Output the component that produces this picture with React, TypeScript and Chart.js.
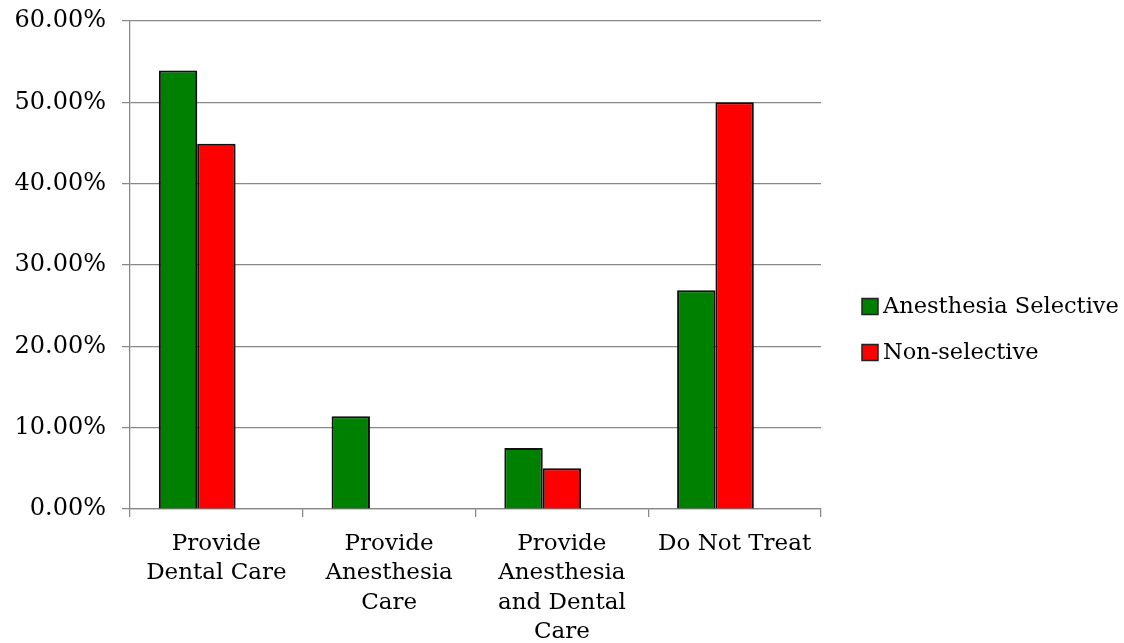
import React, { useEffect, useRef } from 'react';
import { Chart, registerables } from 'chart.js';

Chart.register(...registerables);

const categories: string[][] = [
  ['Provide', 'Dental Care'],
  ['Provide', 'Anesthesia', 'Care'],
  ['Provide', 'Anesthesia', 'and Dental', 'Care'],
  ['Do Not Treat'],
];
const seriesNames = ['Anesthesia Selective', 'Non-selective'];
const anesthesiaSelective = [53.9, 11.4, 7.5, 26.9];
const nonSelective = [44.9, 0, 5.0, 50.0];
const emptyThirdSeries: (number | null)[] = [null, null, null, null];
const seriesColors = ['#008000', '#ff0000'];
const yMin = 0;
const yMax = 60;
const yStep = 10;

const FONT = '"DejaVu Serif", serif';

const shadowPlugin = {
  id: 'barShadow',
  beforeDatasetsDraw(chart: any) {
    const ctx = chart.ctx;
    ctx.save();
    ctx.shadowColor = 'rgba(0,0,0,0.35)';
    ctx.shadowBlur = 4;
    ctx.shadowOffsetX = 1.5;
    ctx.shadowOffsetY = 1.5;
  },
  afterDatasetsDraw(chart: any) {
    chart.ctx.restore();
  },
};

const sideLegendPlugin = {
  id: 'sideLegend',
  afterDraw(chart: any) {
    const ctx = chart.ctx;
    const ca = chart.chartArea;
    const items = chart.data.datasets.filter((d: any) => d.label);
    const x0 = ca.right + 41;
    const cy = chart.height / 2 + 8;
    const rowGap = 46;
    items.forEach((ds: any, i: number) => {
      const yc = cy + (i - (items.length - 1) / 2) * rowGap;
      ctx.save();
      ctx.fillStyle = ds.backgroundColor;
      ctx.fillRect(x0, yc - 8, 16, 16);
      ctx.strokeStyle = '#222';
      ctx.lineWidth = 1.5;
      ctx.strokeRect(x0, yc - 8, 16, 16);
      ctx.fillStyle = '#000';
      ctx.font = `22.5px ${FONT}`;
      ctx.textBaseline = 'alphabetic';
      ctx.textAlign = 'left';
      ctx.fillText(ds.label, x0 + 21, yc + 6.5);
      ctx.restore();
    });
  },
};

export default function App() {
  const canvasRef = useRef<HTMLCanvasElement | null>(null);

  useEffect(() => {
    if (!canvasRef.current) return;
    const chart = new Chart(canvasRef.current, {
      type: 'bar',
      data: {
        labels: categories as any,
        datasets: [
          {
            label: seriesNames[0],
            data: anesthesiaSelective,
            backgroundColor: seriesColors[0],
            borderColor: '#111',
            borderWidth: 2,
          },
          {
            label: seriesNames[1],
            data: nonSelective,
            backgroundColor: seriesColors[1],
            borderColor: '#111',
            borderWidth: 2,
          },
          {
            label: '',
            data: emptyThirdSeries as any,
            backgroundColor: 'transparent',
            borderWidth: 0,
          },
        ],
      },
      options: {
        responsive: false,
        animation: false,
        maintainAspectRatio: false,
        layout: { padding: { top: 21, right: 303, bottom: 0, left: 0 } },
        datasets: {
          bar: { categoryPercentage: 0.666, barPercentage: 1 },
        },
        plugins: {
          legend: { display: false },
          tooltip: { enabled: false },
        },
        scales: {
          x: {
            offset: true,
            grid: {
              display: true,
              drawOnChartArea: false,
              drawTicks: true,
              tickLength: 8,
              color: '#888',
              lineWidth: 1.25,
              offset: true,
            },
            border: { display: true, color: '#888', width: 1.25 },
            ticks: {
              color: '#000',
              padding: 12,
              maxRotation: 0,
              autoSkip: false,
              font: { family: FONT, size: 23, lineHeight: 1.28 },
            },
            afterFit(scale: any) {
              scale.height = 134;
              scale.paddingLeft = 0;
              scale.paddingRight = 0;
            },
          },
          y: {
            min: yMin,
            max: yMax,
            grid: {
              color: '#888',
              lineWidth: 1.25,
              drawTicks: true,
              tickLength: 8,
            },
            border: { display: true, color: '#888', width: 1.25 },
            ticks: {
              stepSize: yStep,
              color: '#000',
              padding: 16,
              font: { family: FONT, size: 24 },
              callback: (v: any) => Number(v).toFixed(2) + '%',
            },
            afterFit(scale: any) {
              scale.width = 130;
              scale.paddingTop = 0;
              scale.paddingBottom = 0;
            },
          },
        },
      },
      plugins: [shadowPlugin, sideLegendPlugin],
    });
    return () => chart.destroy();
  }, []);

  return (
    <div style={{ position: 'fixed', left: 0, top: 0, width: 1124, height: 643, background: '#fff' }}>
      <canvas ref={canvasRef} width={1124} height={643} style={{ display: 'block' }} />
    </div>
  );
}
